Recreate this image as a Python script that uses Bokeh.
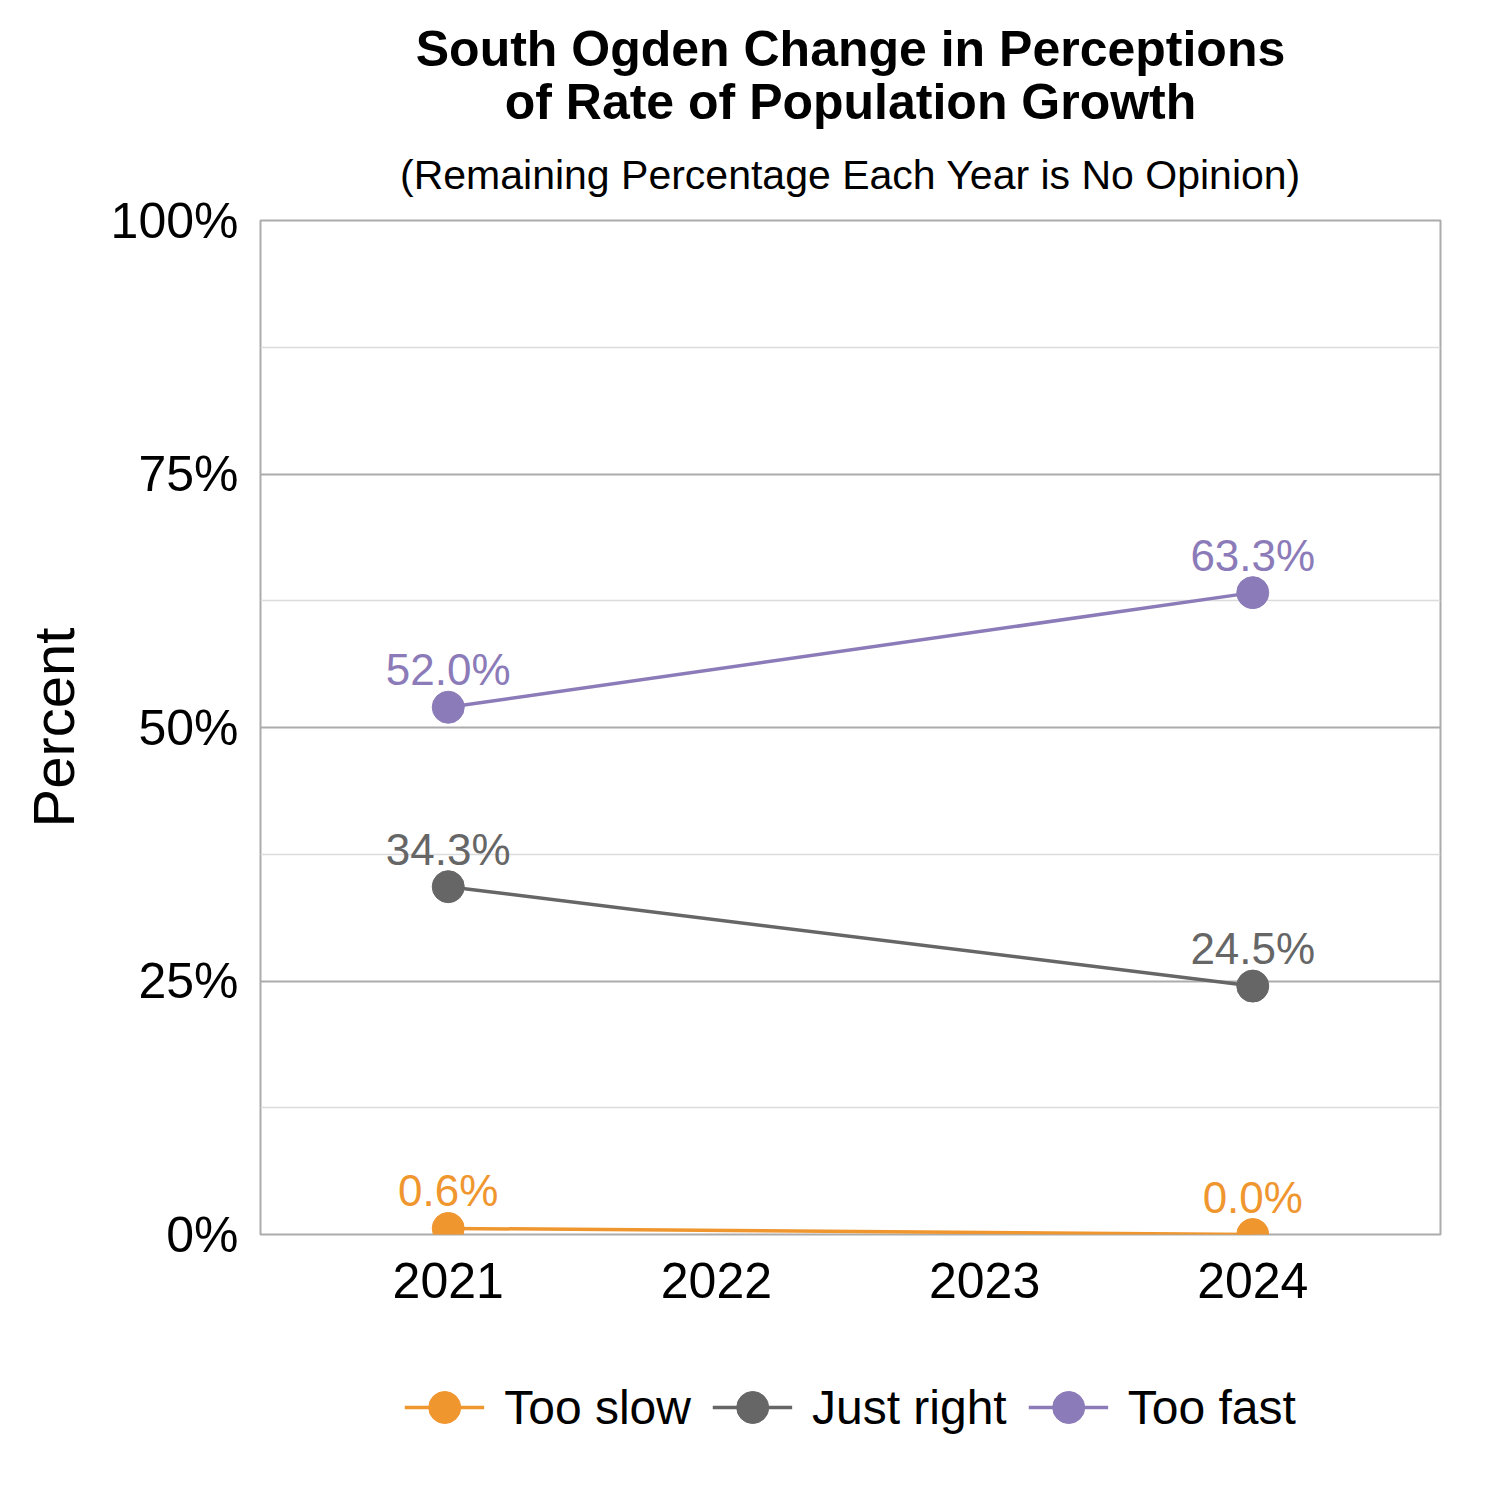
"""
South Ogden perceptions of population growth rate, Bokeh recreation
"""
from bokeh.plotting import figure
from bokeh.layouts import column
from bokeh.models import (
    ColumnDataSource, LabelSet, Legend, LegendItem, Title,
    Range1d, FixedTicker,
)
from bokeh.core.properties import value
from bokeh.embed import file_html
from bokeh.resources import INLINE

YEARS      = [2021, 2024]
TOO_SLOW   = [0.6, 0.0]
JUST_RIGHT = [34.3, 24.5]
TOO_FAST   = [52.0, 63.3]

SERIES = [
    ('Too slow',   TOO_SLOW,   '#F0962F'),
    ('Just right', JUST_RIGHT, '#666666'),
    ('Too fast',   TOO_FAST,   '#8B7BB8'),
]

X_TICKS = [2021, 2022, 2023, 2024]
Y_TICKS = [0, 25, 50, 75, 100]
Y_MINOR = [12.5, 37.5, 62.5, 87.5]

FONT = 'Liberation Sans'
NAN = float('nan')

FW, FH = 1180, 1014
TOP, BOTTOM, LEFT, RIGHT = 220, 133, 260, 52
LEG_H = 80

p = figure(
    width=LEFT + FW + RIGHT, height=TOP + FH + BOTTOM,
    frame_width=FW, frame_height=FH,
    min_border_left=LEFT, min_border_right=RIGHT,
    min_border_top=TOP, min_border_bottom=BOTTOM,
    x_range=Range1d(2020.3, 2024.7), y_range=Range1d(0, 100),
    output_backend='svg', toolbar_location=None, tools='',
    background_fill_color='white', border_fill_color='white',
)
p.outline_line_color = '#ababab'
p.outline_line_width = 2

p.xgrid.grid_line_color = None
p.yaxis.ticker = FixedTicker(ticks=Y_TICKS, minor_ticks=Y_MINOR)
p.xaxis.ticker = FixedTicker(ticks=X_TICKS)
p.ygrid.grid_line_color = '#ababab'
p.ygrid.grid_line_width = 2
p.ygrid.minor_grid_line_color = '#dcdcdc'
p.ygrid.minor_grid_line_width = 1.5

for ax in (p.xaxis, p.yaxis):
    ax.axis_line_color = None
    ax.major_tick_line_color = None
    ax.minor_tick_line_color = None
    ax.major_label_text_font = FONT
    ax.major_label_text_font_size = '50px'
    ax.major_label_text_color = 'black'

p.yaxis.major_label_overrides = {t: f'{t}%' for t in Y_TICKS}
p.yaxis.major_label_standoff = 16
p.xaxis.major_label_standoff = 22

p.yaxis.axis_label = 'Percent'
p.yaxis.axis_label_text_font = FONT
p.yaxis.axis_label_text_font_size = '58px'
p.yaxis.axis_label_text_font_style = 'normal'
p.yaxis.axis_label_text_color = 'black'
p.yaxis.axis_label_standoff = 22

# Separate strip under the chart that only holds the legend
leg = figure(
    width=LEFT + FW + RIGHT, height=LEG_H,
    frame_width=FW, frame_height=LEG_H,
    min_border_left=LEFT, min_border_right=RIGHT,
    min_border_top=0, min_border_bottom=0,
    x_range=Range1d(0, 1), y_range=Range1d(0, 1),
    output_backend='svg', toolbar_location=None, tools='',
    background_fill_color='white', border_fill_color='white',
)
leg.axis.visible = False
leg.grid.grid_line_color = None
leg.outline_line_color = None

items = []
for name, vals, color in SERIES:
    src = ColumnDataSource(dict(
        x=YEARS, y=vals,
        lbl=[f'{v:.1f}%' for v in vals],
    ))
    p.line('x', 'y', source=src, line_color=color, line_width=3.5)
    p.scatter('x', 'y', source=src, size=32, fill_color=color,
              line_color=color)
    p.add_layout(LabelSet(
        x='x', y='y', text='lbl', source=src,
        text_font=value(FONT), text_font_size=value('44px'),
        text_color=color, text_align='center',
        text_baseline='alphabetic', y_offset=22,
    ))
    # invisible stand-ins so the legend can draw the swatches
    blank = ColumnDataSource(dict(x=[NAN], y=[NAN]))
    l_line = leg.line('x', 'y', source=blank, line_color=color, line_width=3.5)
    l_pt = leg.scatter('x', 'y', source=blank, size=32, fill_color=color,
                       line_color=color)
    items.append(LegendItem(label=name, renderers=[l_line, l_pt]))

# legend marker is drawn at 0.4 * glyph box, so an 80px box gives ~32px dots
legend = Legend(
    items=items, orientation='horizontal', location='center',
    glyph_width=80, glyph_height=80, label_standoff=20, spacing=21,
    padding=0, margin=0,
    label_text_font=FONT, label_text_font_size='48px',
    label_text_color='black',
    border_line_color=None, background_fill_alpha=0,
)
leg.add_layout(legend, 'center')

# Title block: added from the frame outward
for text, size, style, standoff in [
    ('(Remaining Percentage Each Year is No Opinion)', '41px', 'normal', 45),
    ('of Rate of Population Growth',      '50px', 'bold', -5),
    ('South Ogden Change in Perceptions', '50px', 'bold', -5),
]:
    p.add_layout(Title(
        text=text, align='center', standoff=standoff,
        text_font=FONT, text_font_size=size, text_font_style=style,
        text_color='black',
    ), 'above')

layout = column(p, leg, spacing=0)
open("out.html", "w").write(file_html(layout, INLINE))
